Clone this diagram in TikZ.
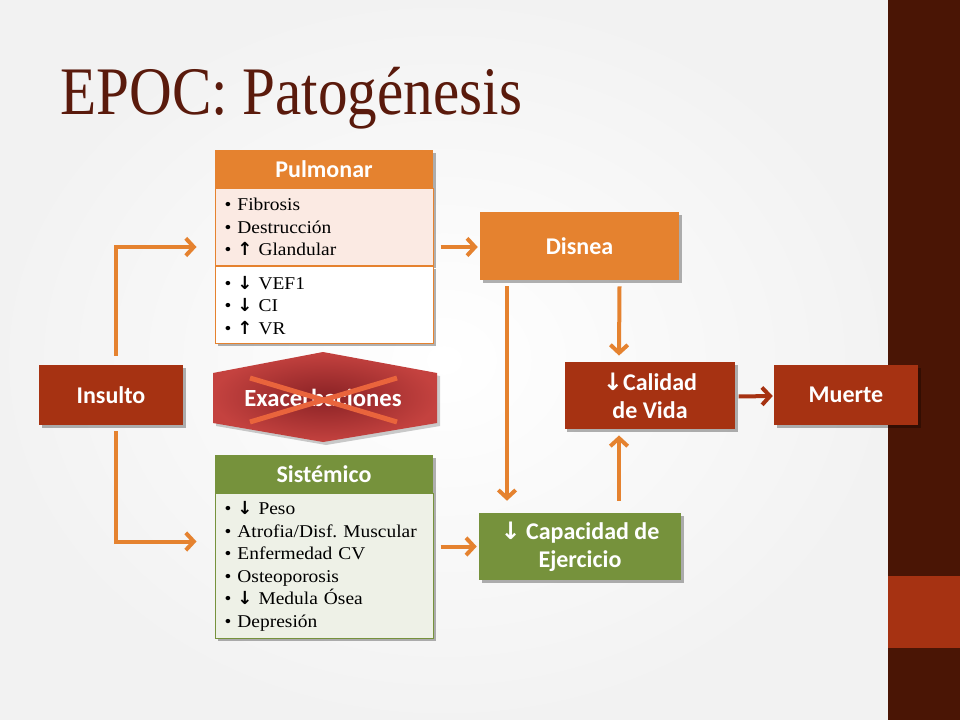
\documentclass[tikz,border=0pt]{standalone}
\usepackage{fontspec}
\setmainfont{Liberation Serif}
\newfontfamily\hdr{Carlito}
\newfontfamily\arr{DejaVu Sans}
\newfontfamily\bul[FakeStretch=1.08]{Liberation Serif}
\newfontfamily\ttl[FakeStretch=0.87]{Liberation Serif}
\usetikzlibrary{shadows,arrows.meta,calc}
\definecolor{brownT}{HTML}{5A1A0C}
\definecolor{barD}{HTML}{4A1505}
\definecolor{rust}{HTML}{A63212}
\definecolor{orng}{HTML}{E5822F}
\definecolor{olive}{HTML}{76923C}
\definecolor{pinkbg}{HTML}{FBEAE3}
\definecolor{greenbg}{HTML}{EEF1E7}
\definecolor{hexred}{HTML}{C4423F}
\definecolor{hexdark}{HTML}{8A2225}
\definecolor{xred}{HTML}{E9643C}
\begin{document}
\begin{tikzpicture}[x=0.75pt,y=-0.75pt,
  shad/.style={drop shadow={shadow xshift=2pt,shadow yshift=-2pt,opacity=0.3,fill=black}},
  hbox/.style={fill=#1, text=white, font=\hdr\bfseries\fontsize{18}{21}\selectfont,
    align=center, inner sep=0pt, shad},
  lbox/.style={text width=149pt, inner xsep=7.25pt, inner ysep=0pt, align=left,
    line width=0.75pt, font=\bul\frenchspacing\fontsize{13.5}{16.9}\selectfont, shad},
  conn/.style={draw=#1, line width=3pt,
    -{Straight Barb[length=6pt,width=13pt,line width=3pt]}},
  conn/.default=orng]
\useasboundingbox (0,0) rectangle (960,720);
% background
\shade[inner color=white, outer color=black!5] (0,0) rectangle (888,720);
\fill[barD] (888,0) rectangle (960,720);
\fill[rust] (888,576) rectangle (960,648);
% title
\node[anchor=base west, inner sep=0pt, text=brownT,
  font=\ttl\fontsize{51}{51}\selectfont] (title) at (60,115) {EPOC: Patogénesis};
% Pulmonar
\node[hbox=orng, minimum width=163.5pt, minimum height=28.5pt] (pulh) at (324,169) {Pulmonar};
\node[lbox, draw=orng, fill=pinkbg, minimum height=57.75pt, anchor=north] (pul1) at (pulh.south)
  {• Fibrosis\\• Destrucción\\• {\arr\bfseries↑} Glandular};
\node[lbox, draw=orng, fill=white, minimum height=57.75pt, anchor=north] (pul2) at (pul1.south)
  {• {\arr\bfseries↓} VEF1\\• {\arr\bfseries↓} CI\\• {\arr\bfseries↑} VR};
% Sistemico
\node[hbox=olive, minimum width=163.5pt, minimum height=28.5pt] (sish) at (324,474) {Sistémico};
\node[lbox, draw=olive, fill=greenbg, minimum height=108.75pt, anchor=north] (sisb) at (sish.south)
  {• {\arr\bfseries↓} Peso\\• Atrofia/Disf. Muscular\\• Enfermedad CV\\• Osteoporosis\\• {\arr\bfseries↓} Medula Ósea\\• Depresión};
% Exacerbaciones hexagon
\coordinate (h1) at (323,352);
\coordinate (h2) at (437,373);
\coordinate (h3) at (437,423);
\coordinate (h4) at (323,442);
\coordinate (h5) at (213,423);
\coordinate (h6) at (213,373);
\fill[black,opacity=0.2] ($(h1)+(3,3)$) -- ($(h2)+(3,3)$) -- ($(h3)+(3,3)$) -- ($(h4)+(3,3)$) -- ($(h5)+(3,3)$) -- ($(h6)+(3,3)$) -- cycle;
\shade[inner color=hexdark, outer color=hexred] (h1) -- (h2) -- (h3) -- (h4) -- (h5) -- (h6) -- cycle;
\node[text=white, font=\hdr\bfseries\fontsize{18.5}{21}\selectfont, inner sep=0pt] (exa) at (323,398) {Exacerbaciones};
\draw[xred, line width=3.75pt] (250,378) -- (397,422);
\draw[xred, line width=3.75pt] (250,422) -- (397,378);
% right side nodes
\node[hbox=rust, minimum width=108pt, minimum height=45pt] (ins) at (111,395) {Insulto};
\node[hbox=orng, minimum width=149.25pt, minimum height=51pt] (dis) at (579.5,246) {Disnea};
\node[hbox=rust, minimum width=128pt, minimum height=50.5pt] (cal) at (650,395.5) {{\arr\bfseries↓}Calidad\\de Vida};
\node[hbox=rust, minimum width=108pt, minimum height=45pt] (mue) at (846,395) {Muerte};
\node[hbox=olive, minimum width=151.5pt, minimum height=50.25pt] (cap) at (580,546.5) {{\arr\bfseries↓} Capacidad de\\Ejercicio};
% connectors
\draw[conn] ($(ins.north)+(5,-9)$) |- ($(pul1.west|-dis.west)+(-18,1)$);
\draw[conn] ($(ins.south)+(5,6)$) |- ($(sisb.west|-cap.west)+(-18,-5)$);
\draw[conn] ($(pul1.east|-dis.west)+(7,1)$) -- ($(dis.west)+(-2,1)$);
\draw[conn] ($(sisb.east|-cap.west)+(7,0)$) -- ($(cap.west)+(-2,0)$);
\draw[conn] ($(dis.south)+(-72.5,6)$) -- ($(cap.north)+(-73,-12)$);
\draw[conn] ($(dis.south)+(40,6)$) -- ($(cal.north)+(-31,-6)$);
\draw[conn] ($(cap.north)+(39,-12)$) -- ($(cal.south)+(-31,6)$);
\draw[conn=rust] ($(cal.east)+(3,1)$) -- ($(mue.west)+(-1,1)$);
\end{tikzpicture}
\end{document}
